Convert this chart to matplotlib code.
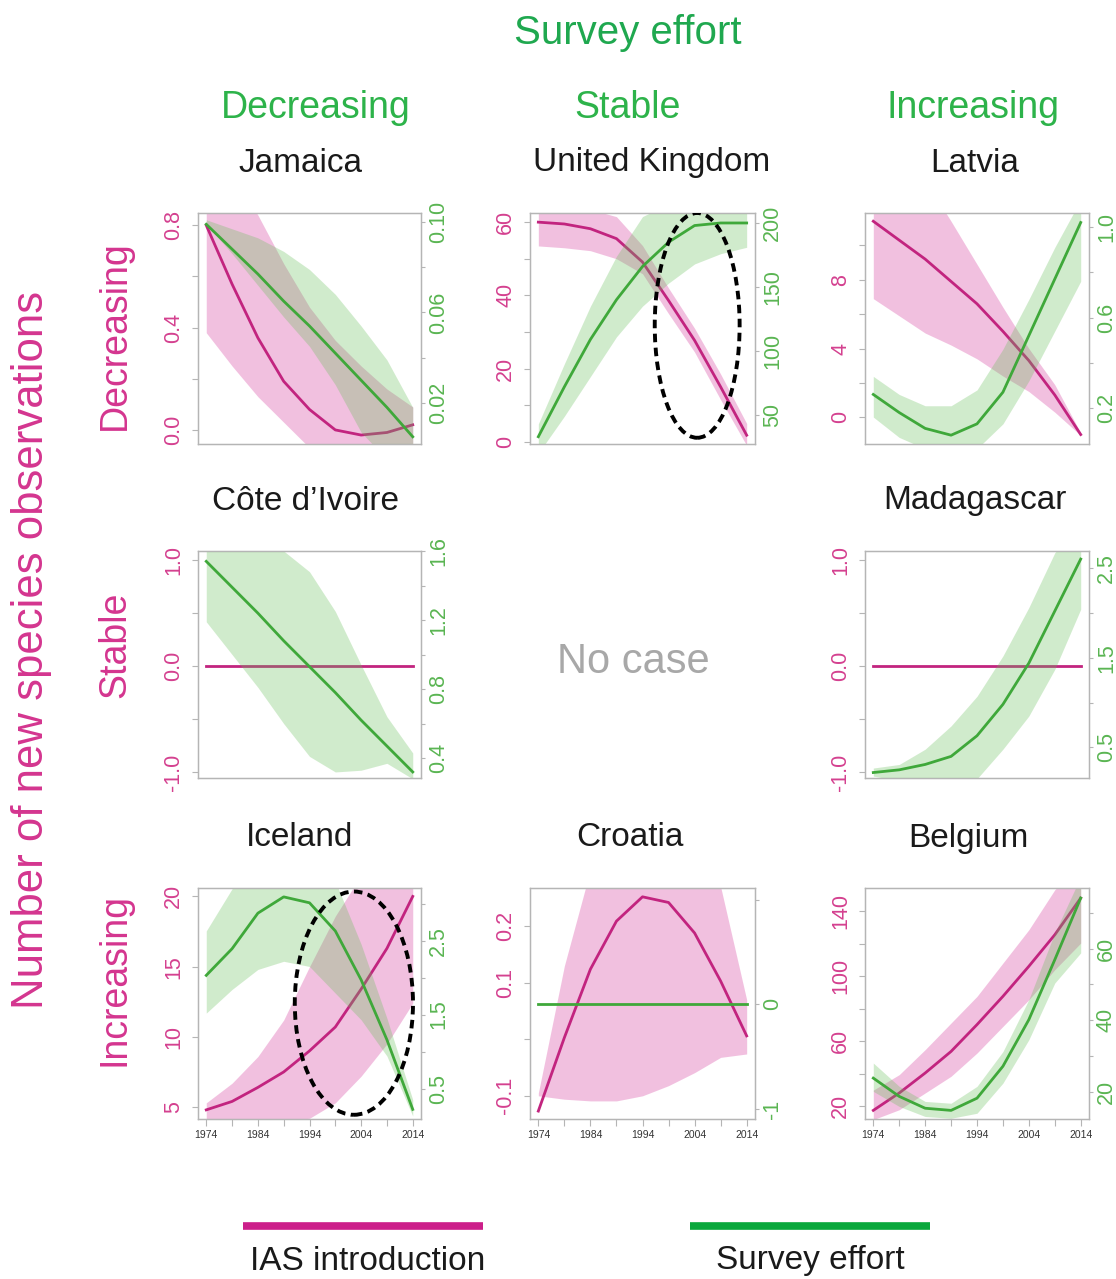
import numpy as np
import matplotlib
matplotlib.use("Agg")
import matplotlib.pyplot as plt
from matplotlib.patches import Ellipse
from matplotlib.lines import Line2D

plt.rcParams['font.family'] = ['Liberation Sans', 'DejaVu Sans']

years = [1974, 1979, 1984, 1989, 1994, 1999, 2004, 2009, 2014]

# Jamaica
jam_ias = [0.80, 0.57, 0.36, 0.19, 0.08, 0.00, -0.02, -0.01, 0.02]
jam_ias_lo = [0.38, 0.25, 0.13, 0.03, -0.07, -0.15, -0.20, -0.20, -0.10]
jam_ias_hi = [1.15, 1.00, 0.84, 0.65, 0.48, 0.35, 0.25, 0.16, 0.09]
jam_eff = [0.099, 0.088, 0.077, 0.065, 0.054, 0.042, 0.030, 0.018, 0.005]
jam_eff_lo = [0.099, 0.086, 0.072, 0.058, 0.045, 0.028, 0.007, -0.005, -0.010]
jam_eff_hi = [0.101, 0.097, 0.093, 0.087, 0.079, 0.068, 0.054, 0.039, 0.018]

# United Kingdom
uk_ias = [60.0, 59.5, 58.2, 55.5, 49.1, 38.6, 27.7, 15.0, 1.8]
uk_ias_lo = [53.5, 53.0, 52.2, 50.0, 45.9, 35.0, 24.5, 11.5, -1.0]
uk_ias_hi = [64.0, 64.0, 63.5, 61.5, 53.6, 42.0, 31.0, 18.5, 5.0]
uk_eff = [33, 72, 109, 140, 166, 185, 198, 200, 200]
uk_eff_lo = [20, 49, 80, 111, 135, 153, 168, 176, 181]
uk_eff_hi = [43, 90, 135, 174, 205, 215, 220, 222, 222]

# Latvia
lat_ias = [11.4, 10.3, 9.2, 7.9, 6.6, 5.0, 3.3, 1.3, -1.0]
lat_ias_lo = [6.9, 5.9, 4.9, 4.2, 3.4, 2.4, 1.5, 0.3, -1.05]
lat_ias_hi = [16.0, 14.8, 13.8, 11.4, 8.9, 6.4, 4.0, 1.9, -0.9]
lat_eff = [0.26, 0.18, 0.11, 0.08, 0.13, 0.27, 0.52, 0.77, 1.02]
lat_eff_lo = [0.16, 0.07, 0.02, 0.00, 0.02, 0.13, 0.32, 0.54, 0.76]
lat_eff_hi = [0.34, 0.26, 0.21, 0.21, 0.28, 0.46, 0.68, 0.91, 1.12]

# Cote d'Ivoire
civ_ias = [0, 0, 0, 0, 0, 0, 0, 0, 0]
civ_eff = [1.54, 1.39, 1.24, 1.08, 0.93, 0.78, 0.62, 0.47, 0.32]
civ_eff_lo = [1.19, 1.00, 0.81, 0.60, 0.41, 0.32, 0.33, 0.37, 0.28]
civ_eff_hi = [1.75, 1.72, 1.68, 1.60, 1.48, 1.25, 0.94, 0.64, 0.43]

# Madagascar
mdg_ias = [0, 0, 0, 0, 0, 0, 0, 0, 0]
mdg_eff = [0.22, 0.25, 0.31, 0.40, 0.63, 0.98, 1.44, 2.02, 2.60]
mdg_eff_lo = [0.18, 0.13, 0.10, 0.10, 0.15, 0.48, 0.85, 1.37, 2.04]
mdg_eff_hi = [0.27, 0.31, 0.48, 0.74, 1.07, 1.52, 2.06, 2.67, 3.00]

# Iceland
isl_ias = [4.8, 5.4, 6.4, 7.5, 9.0, 10.7, 13.4, 16.3, 20.0]
isl_ias_lo = [3.5, 3.6, 3.8, 4.0, 4.2, 5.3, 7.2, 9.5, 12.4]
isl_ias_hi = [5.3, 6.7, 8.6, 11.2, 15.0, 18.6, 21.5, 22.5, 23.0]
isl_eff = [2.03, 2.39, 2.87, 3.09, 3.01, 2.63, 1.97, 1.16, 0.22]
isl_eff_lo = [1.52, 1.84, 2.11, 2.22, 2.15, 1.79, 1.43, 0.94, 0.13]
isl_eff_hi = [2.63, 3.20, 3.40, 3.45, 3.45, 3.30, 2.45, 1.45, 0.35]

# Croatia
hrv_ias = [-0.127, 0.003, 0.124, 0.209, 0.252, 0.242, 0.188, 0.103, 0.006]
hrv_ias_lo = [-0.100, -0.106, -0.109, -0.109, -0.100, -0.082, -0.059, -0.032, -0.026]
hrv_ias_hi = [-0.095, 0.13, 0.30, 0.40, 0.45, 0.42, 0.35, 0.27, 0.07]
hrv_eff = [0, 0, 0, 0, 0, 0, 0, 0, 0]

# Belgium
bel_ias = [17.5, 28.2, 40.5, 53.8, 70.3, 87.7, 106.2, 125.6, 148.2]
bel_ias_lo = [11.8, 17.9, 28.2, 38.5, 52.8, 69.2, 85.6, 104.1, 120.5]
bel_ias_hi = [30.0, 39.5, 54.9, 71.3, 87.7, 108.2, 128.7, 153.3, 170.0]
bel_eff = [23.9, 18.8, 15.5, 14.9, 18.3, 27.2, 40.2, 56.9, 74.1]
bel_eff_lo = [20.2, 16.0, 13.2, 12.7, 14.1, 22.5, 34.6, 50.4, 58.8]
bel_eff_hi = [28.1, 21.6, 17.4, 16.9, 21.6, 31.3, 45.8, 64.4, 80.0]

year_ticks = [1974, 1979, 1984, 1989, 1994, 1999, 2004, 2009, 2014]
year_labels = ['1974', '', '1984', '', '1994', '', '2004', '', '2014']

PINK = '#c2247f'
PINK_FILL = (0.85, 0.30, 0.65, 0.35)
GREEN = '#3fa83a'
GREEN_FILL = (0.40, 0.75, 0.35, 0.30)
PINK_TXT = '#d4408f'
GREEN_TXT = '#5ab552'
BOX = '#b5b5b5'

W, H = 1116, 1279
fig = plt.figure(figsize=(W / 100, H / 100), dpi=100)


def fx(x):
    return x / W


def fy(y):
    return 1 - y / H


def panel(box, name, name_x, ias, ias_lo, ias_hi, eff, eff_lo, eff_hi,
          ylim1, ylim2, lt, ll, rt, rl, bottom=False, ellipse=None):
    x0, y0, x1, y1 = box
    ax = fig.add_axes([fx(x0), fy(y1), (x1 - x0) / W, (y1 - y0) / H])
    if ias_lo is not None:
        ax.fill_between(years, ias_lo, ias_hi, color=PINK_FILL, lw=0)
    ax.plot(years, ias, color=PINK, lw=2)
    ax.set_xlim(1972.4, 2015.6)
    ax.set_ylim(*ylim1)
    ax.set_yticks(lt)
    ax.set_yticklabels(ll)

    ax2 = ax.twinx()
    if eff_lo is not None:
        ax2.fill_between(years, eff_lo, eff_hi, color=GREEN_FILL, lw=0)
    ax2.plot(years, eff, color=GREEN, lw=2)
    ax2.set_ylim(*ylim2)
    ax2.set_yticks(rt)
    ax2.set_yticklabels(rl)

    for a in (ax, ax2):
        for s in a.spines.values():
            s.set_color(BOX)
            s.set_linewidth(0.9)
    ax.tick_params(axis='y', colors=BOX, labelcolor=PINK_TXT, labelsize=15.5,
                   labelrotation=90, length=4, width=0.8, pad=6)
    ax2.tick_params(axis='y', colors=BOX, labelcolor=GREEN_TXT, labelsize=15.5,
                    labelrotation=90, length=3, width=0.8, pad=2)
    plt.setp(ax.get_yticklabels(), va='center')
    plt.setp(ax2.get_yticklabels(), va='center')

    if bottom:
        ax.set_xticks(year_ticks)
        ax.set_xticklabels(year_labels)
        ax.tick_params(axis='x', colors=BOX, labelcolor='#333333', labelsize=7.5,
                       length=5, width=0.8, pad=3)
    else:
        ax.set_xticks([])

    if ellipse is not None:
        cx, cy, w, h = ellipse
        e = Ellipse((cx, cy), w, h, transform=ax.transData, fill=False,
                    ec='black', lw=2.8, ls=(0, (2.2, 1.4)), zorder=10)
        ax2.add_patch(e)

    fig.text(fx(name_x), fy(y0 - 50), name, ha='center', va='center',
             fontsize=24, color='#1a1a1a')
    return ax, ax2


# column boxes (pixels): left, top, right, bottom
cols = [(198, 421), (530, 755), (865, 1089)]
rows = [(213, 444), (551, 778), (888, 1119)]

panel((cols[0][0], rows[0][0], cols[0][1], rows[0][1]), 'Jamaica', 300,
      jam_ias, jam_ias_lo, jam_ias_hi, jam_eff, jam_eff_lo, jam_eff_hi,
      (-0.055, 0.848), (0.0018, 0.104),
      [0.0, 0.2, 0.4, 0.6, 0.8], ['0.0', '', '0.4', '', '0.8'],
      [0.02, 0.04, 0.06, 0.08, 0.10], ['0.02', '', '0.06', '', '0.10'])

panel((cols[1][0], rows[0][0], cols[1][1], rows[0][1]), 'United Kingdom', 652,
      uk_ias, uk_ias_lo, uk_ias_hi, uk_eff, uk_eff_lo, uk_eff_hi,
      (-0.6, 62.5), (27.3, 207.8),
      [0, 10, 20, 30, 40, 50, 60], ['0', '', '20', '', '40', '', '60'],
      [50, 100, 150, 200], ['50', '100', '150', '200'],
      ellipse=(2004.5, 31.8, 16.3, 61.4))

panel((cols[2][0], rows[0][0], cols[2][1], rows[0][1]), 'Latvia', 975,
      lat_ias, lat_ias_lo, lat_ias_hi, lat_eff, lat_eff_lo, lat_eff_hi,
      (-1.55, 11.88), (0.041, 1.062),
      [0, 2, 4, 6, 8, 10], ['0', '', '4', '', '8', ''],
      [0.2, 0.4, 0.6, 0.8, 1.0], ['0.2', '', '0.6', '', '1.0'])

panel((cols[0][0], rows[1][0], cols[0][1], rows[1][1]), 'Côte d\u2019Ivoire', 305,
      civ_ias, None, None, civ_eff, civ_eff_lo, civ_eff_hi,
      (-1.053, 1.0875), (0.285, 1.594),
      [-1.0, -0.5, 0.0, 0.5, 1.0], ['-1.0', '', '0.0', '', '1.0'],
      [0.4, 0.6, 0.8, 1.0, 1.2, 1.4, 1.6], ['0.4', '', '0.8', '', '1.2', '', '1.6'])

panel((cols[2][0], rows[1][0], cols[2][1], rows[1][1]), 'Madagascar', 975,
      mdg_ias, None, None, mdg_eff, mdg_eff_lo, mdg_eff_hi,
      (-1.053, 1.0875), (0.159, 2.69),
      [-1.0, -0.5, 0.0, 0.5, 1.0], ['-1.0', '', '0.0', '', '1.0'],
      [0.5, 1.0, 1.5, 2.0, 2.5], ['0.5', '', '1.5', '', '2.5'])

panel((cols[0][0], rows[2][0], cols[0][1], rows[2][1]), 'Iceland', 300,
      isl_ias, isl_ias_lo, isl_ias_hi, isl_eff, isl_eff_lo, isl_eff_hi,
      (4.15, 20.6), (0.09, 3.21),
      [5, 10, 15, 20], ['5', '10', '15', '20'],
      [0.5, 1.0, 1.5, 2.0, 2.5, 3.0], ['0.5', '', '1.5', '', '2.5', ''],
      bottom=True, ellipse=(2002.6, 12.4, 22.9, 15.9))

panel((cols[1][0], rows[2][0], cols[1][1], rows[2][1]), 'Croatia', 630,
      hrv_ias, hrv_ias_lo, hrv_ias_hi, hrv_eff, None, None,
      (-0.141, 0.2676), (-1.095, 1.11),
      [-0.1, 0.0, 0.1, 0.2], ['-0.1', '', '0.1', '0.2'],
      [-1, 0, 1], ['-1', '0', ''],
      bottom=True)

panel((cols[2][0], rows[2][0], cols[2][1], rows[2][1]), 'Belgium', 968,
      bel_ias, bel_ias_lo, bel_ias_hi, bel_eff, bel_eff_lo, bel_eff_hi,
      (12.2, 154.4), (12.5, 76.9),
      [20, 40, 60, 80, 100, 120, 140], ['20', '', '60', '', '100', '', '140'],
      [20, 30, 40, 50, 60, 70], ['20', '', '40', '', '60', ''],
      bottom=True)

# headers
fig.text(fx(628), fy(33), 'Survey effort', ha='center', va='center',
         fontsize=29, color='#1fa84f')
for xc, lab in zip([316, 628, 973], ['Decreasing', 'Stable', 'Increasing']):
    fig.text(fx(xc), fy(108), lab, ha='center', va='center', fontsize=27,
             color='#2db34a')
for yc, lab in zip([335, 645, 980], ['Decreasing', 'Stable', 'Increasing']):
    fig.text(fx(115), fy(yc), lab, ha='center', va='center', fontsize=27,
             color='#d4358f', rotation=90)
fig.text(fx(32), fy(650), 'Number of new species observations', ha='center',
         va='center', fontsize=31.5, color='#d4358f', rotation=90)
fig.text(fx(633), fy(662), 'No case', ha='center', va='center', fontsize=30,
         color='#a8a8a8')

# legend
fig.add_artist(Line2D([fx(243), fx(483)], [fy(1226), fy(1226)], color='#cc1f8a',
                      lw=5.5, solid_capstyle='butt', transform=fig.transFigure))
fig.add_artist(Line2D([fx(690), fx(930)], [fy(1226), fy(1226)], color='#0aa83c',
                      lw=5.5, solid_capstyle='butt', transform=fig.transFigure))
fig.text(fx(368), fy(1262), 'IAS introduction', ha='center', va='center',
         fontsize=24, color='#1a1a1a')
fig.text(fx(810), fy(1260), 'Survey effort', ha='center', va='center',
         fontsize=24, color='#1a1a1a')

fig.savefig('out.png', dpi=100)
